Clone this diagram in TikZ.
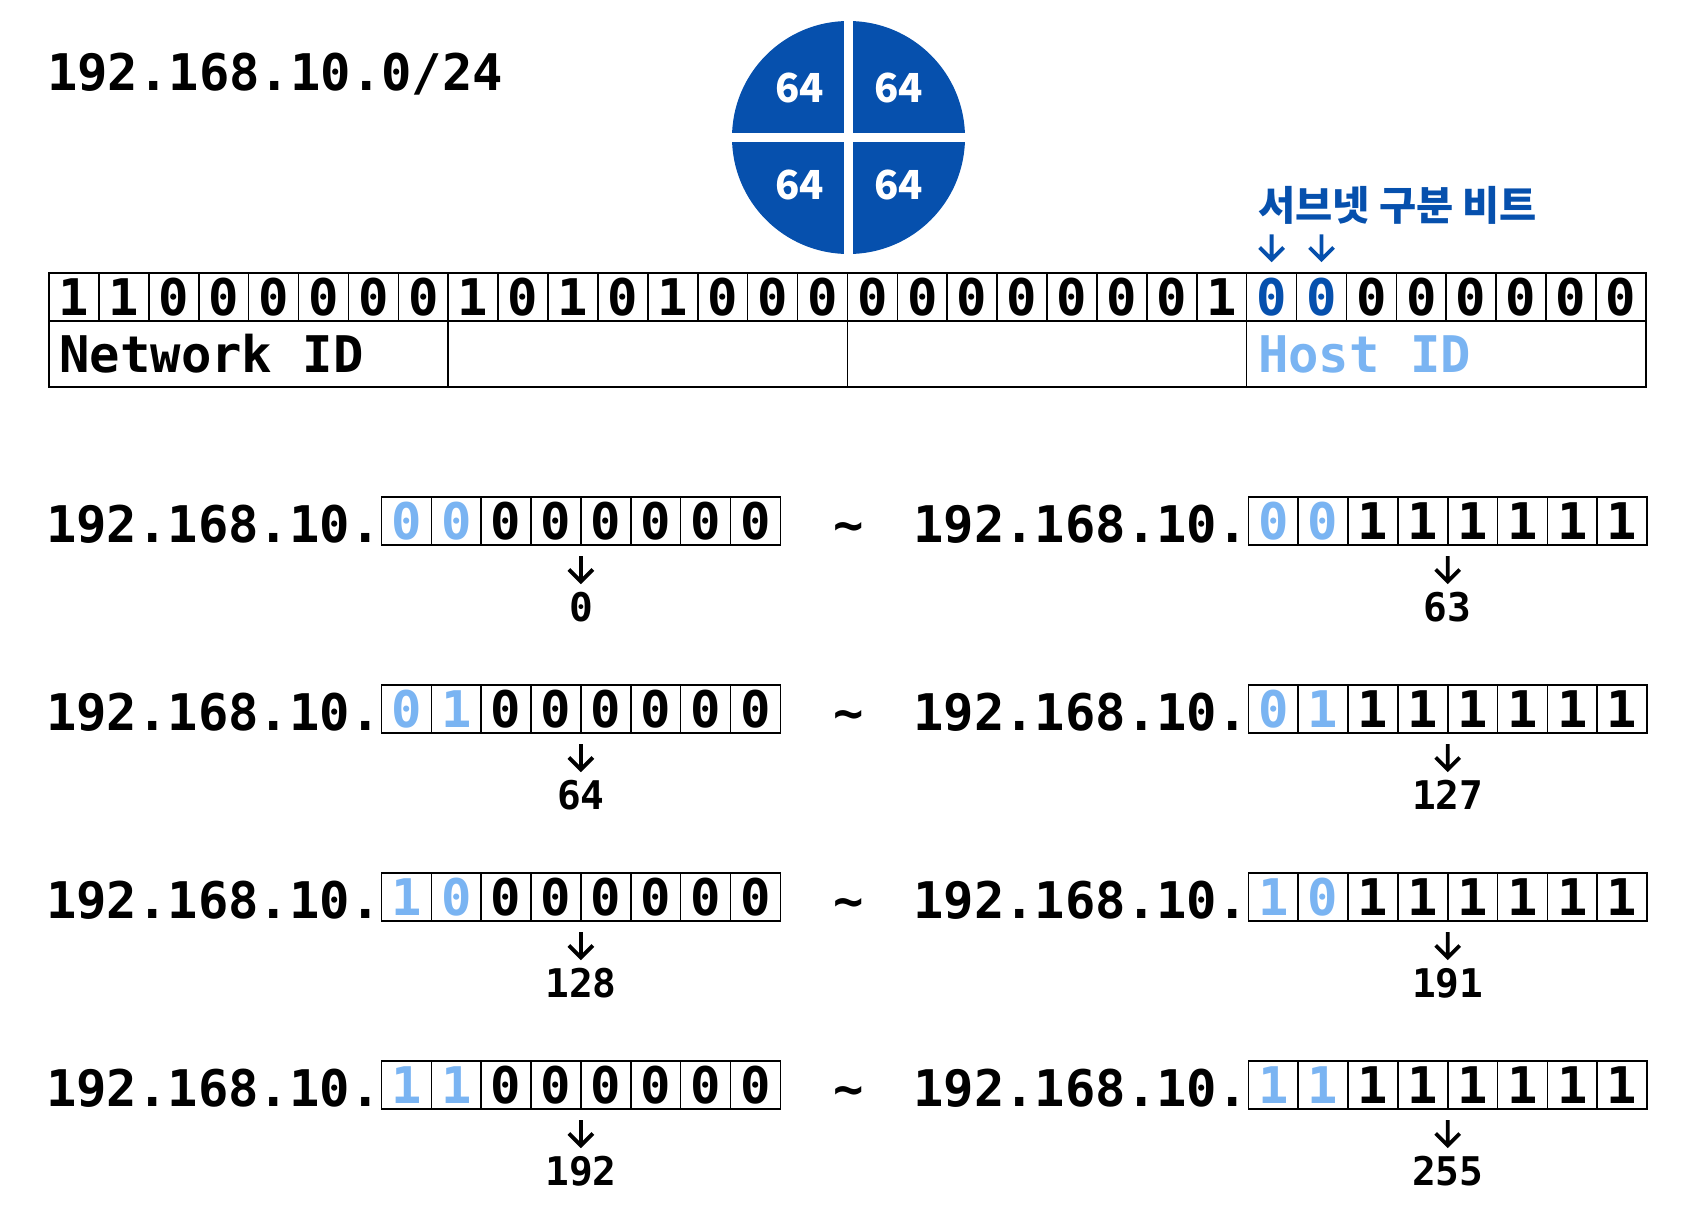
\documentclass[tikz,border=0pt]{standalone}
\usepackage{fontspec}
\newfontfamily\dvm{DejaVu Sans Mono}
\newfontfamily\krfont{Noto Sans CJK KR}
\definecolor{dblue}{HTML}{0650AD}
\definecolor{lblue}{HTML}{7AB4F2}
\begin{document}
\begin{tikzpicture}[x=0.5pt,y=-0.5pt,
  cell/.style={draw=black, line width=0.8pt, minimum width=24.95pt, minimum height=24pt,
    inner sep=0pt, outer sep=0pt, font=\dvm\bfseries\fontsize{25.25}{30}\selectfont},
  rcell/.style={cell, minimum width=24.925pt},
  big/.style={inner sep=0pt, outer sep=0pt, font=\dvm\bfseries\fontsize{25.25}{30}\selectfont},
  lab/.style={inner sep=0pt, outer sep=0pt, font=\dvm\bfseries\fontsize{19.75}{24}\selectfont},
  quart/.style={inner sep=0pt, text=white, font=\krfont\bfseries\fontsize{20}{24}\selectfont},
  darr/.style={line width=1.9pt, line cap=butt, line join=miter},
]
\useasboundingbox (0,0) rectangle (1697,1217);

% title
\node[big, anchor=base west] (title) at (47,90.7) {192.168.10.0/24};

% circle split in four
\fill[dblue] (848.5,137.5) circle[radius=58.25pt];
\fill[white] (844,15) rectangle (853,260);
\fill[white] (725,132.8) rectangle (972,142);
\node[quart] (q1) at (799.5,88) {64};
\node[quart] (q2) at (898.5,88) {64};
\node[quart] (q3) at (799.5,185) {64};
\node[quart] (q4) at (898.5,185) {64};

% subnet bits label
\node[anchor=base west, inner sep=0pt, text=dblue,
  font=\krfont\bfseries\fontsize{20.2}{24}\selectfont] (kr) at (1258,220) {서브넷 구분 비트};
\coordinate (ka) at (1271.6,234.3);
\coordinate (kb) at (1271.6,259.5);
\coordinate (kc) at (1321.5,234.3);
\coordinate (kd) at (1321.5,259.5);
\draw[darr, dblue] (ka) -- (kb) ([shift={(-12,-12)}]kb) -- (kb) -- ([shift={(12,-12)}]kb);
\draw[darr, dblue] (kc) -- (kd) ([shift={(-12,-12)}]kd) -- (kd) -- ([shift={(12,-12)}]kd);

% main 32-bit table
\foreach \b/\c [count=\i from 0] in {1/black,1/black,0/black,0/black,0/black,0/black,0/black,0/black,
  1/black,0/black,1/black,0/black,1/black,0/black,0/black,0/black,
  0/black,0/black,0/black,0/black,0/black,0/black,0/black,1/black,
  0/dblue,0/dblue,0/black,0/black,0/black,0/black,0/black,0/black}{
  \node[cell, text=\c] (m\i) at ({73.95+49.9*\i},297) {\b};
}
\foreach \j in {0,1,2,3}{
  \node[cell, minimum width=199.6pt, minimum height=33pt] (n\j) at ({248.6+399.2*\j},354) {};
}
\node[big, anchor=base west] (netid) at (59.5,372) {Network ID};
\node[big, anchor=base west, text=lblue] (hostid) at (1258,372.5) {Host ID};

% ranges
\foreach \r/\p/\q/\lo/\hi in {0/0/0/0/63, 1/0/1/64/127, 2/1/0/128/191, 3/1/1/192/255}{
  \pgfmathsetmacro\yc{521+188*\r}
  % left
  \node[big, anchor=base east] (lt\r) at (380.5,\yc+21.7) {192.168.10.};
  \node[rcell, text=lblue] (l\r-0) at ({381.5+49.85*0.5},\yc) {\p};
  \node[rcell, text=lblue] (l\r-1) at ({381.5+49.85*1.5},\yc) {\q};
  \foreach \k in {2,...,7}{
    \node[rcell] (l\r-\k) at ({381.5+49.85*(\k+0.5)},\yc) {0};
  }
  \coordinate (la\r) at (580.9,\yc+35);
  \coordinate (lb\r) at (580.9,\yc+60.5);
  \draw[darr] (la\r) -- (lb\r) ([shift={(-12,-12)}]lb\r) -- (lb\r) -- ([shift={(12,-12)}]lb\r);
  \node[lab, anchor=base] (ln\r) at (580.9,\yc+100.7) {\lo};
  % tilde
  \node[big, anchor=base] (tl\r) at (848.5,\yc+21.7) {\char`\~};
  % right
  \node[big, anchor=base east] (rt\r) at (1247.8,\yc+21.7) {192.168.10.};
  \node[rcell, text=lblue] (r\r-0) at ({1248.3+49.85*0.5},\yc) {\p};
  \node[rcell, text=lblue] (r\r-1) at ({1248.3+49.85*1.5},\yc) {\q};
  \foreach \k in {2,...,7}{
    \node[rcell] (r\r-\k) at ({1248.3+49.85*(\k+0.5)},\yc) {1};
  }
  \coordinate (ra\r) at (1447.7,\yc+35);
  \coordinate (rb\r) at (1447.7,\yc+60.5);
  \draw[darr] (ra\r) -- (rb\r) ([shift={(-12,-12)}]rb\r) -- (rb\r) -- ([shift={(12,-12)}]rb\r);
  \node[lab, anchor=base] (rn\r) at (1447.7,\yc+100.7) {\hi};
}
\end{tikzpicture}
\end{document}
